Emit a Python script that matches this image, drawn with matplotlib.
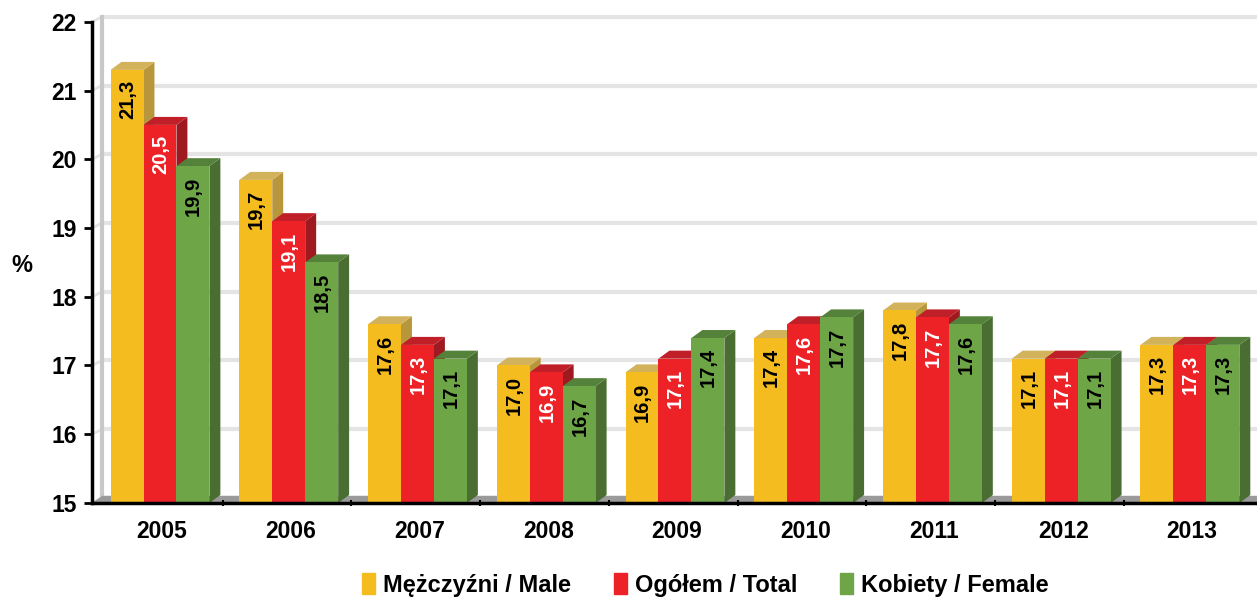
import matplotlib.pyplot as plt
import numpy as np
from matplotlib.patches import Polygon, Patch

plt.rcParams['font.family'] = ['Liberation Sans', 'DejaVu Sans']
plt.rcParams['font.weight'] = 'bold'

years = ['2005', '2006', '2007', '2008', '2009', '2010', '2011', '2012', '2013']
male = [21.3, 19.7, 17.6, 17.0, 16.9, 17.4, 17.8, 17.1, 17.3]
total = [20.5, 19.1, 17.3, 16.9, 17.1, 17.6, 17.7, 17.1, 17.3]
female = [19.9, 18.5, 17.1, 16.7, 17.4, 17.7, 17.6, 17.1, 17.3]
series_names = ['Mężczyźni / Male', 'Ogółem / Total', 'Kobiety / Female']

# front, top, side shades for each series
palette = [
    ('#F5BC1F', '#D2B25A', '#B8973C'),
    ('#EC2227', '#C01F28', '#9E1A20'),
    ('#6EA547', '#55823A', '#4A6D32'),
]
label_colors = ['black', 'white', 'black']

y_min, y_max = 15, 22
x_lo, x_hi = -0.544, 8.505
bar_w = 0.256
group_off = -0.40
# 3D offsets in data units
dx, dy = 0.085, 0.116
wdx, wdy = 0.078, 0.073

fig = plt.figure(figsize=(12.57, 5.97), dpi=100)
ax = fig.add_axes([0.0732, 0.1575, 0.9268, 0.806])
ax.set_xlim(x_lo, x_hi)
ax.set_ylim(y_min, y_max)

# back wall gridlines and little slanted connectors
for v in range(y_min, y_max + 1):
    ax.plot([x_lo + wdx, x_hi], [v + wdy, v + wdy], color='#E4E4E4', lw=3,
            zorder=1, clip_on=False, solid_capstyle='butt')
    ax.plot([x_lo, x_lo + wdx], [v, v + wdy], color='#E4E4E4', lw=2,
            zorder=1, clip_on=False)
# left edge of the back wall
ax.plot([x_lo + wdx, x_lo + wdx], [y_min + wdy, y_max + wdy], color='#C8C8C8',
        lw=3, zorder=1, clip_on=False)
# floor
ax.add_patch(Polygon([(x_lo, y_min), (x_hi, y_min), (x_hi, y_min + 0.1),
                      (x_lo + wdx, y_min + 0.1)],
                     closed=True, color='#9A9A9A', zorder=1.5, clip_on=False))

x = np.arange(len(years))
for k, vals in enumerate([male, total, female]):
    front, top, side = palette[k]
    for i, v in enumerate(vals):
        x0 = x[i] + group_off + k * bar_w
        x1 = x0 + bar_w
        z = 2 + i * 0.01 + k * 0.001
        ax.add_patch(Polygon([(x1, y_min), (x1 + dx, y_min + dy),
                              (x1 + dx, v + dy), (x1, v)],
                             closed=True, color=side, zorder=z, lw=0))
        ax.add_patch(Polygon([(x0, v), (x1, v), (x1 + dx, v + dy), (x0 + dx, v + dy)],
                             closed=True, color=top, zorder=z, lw=0))
        ax.add_patch(Polygon([(x0, y_min), (x1, y_min), (x1, v), (x0, v)],
                             closed=True, color=front, zorder=z, lw=0))
        ax.text((x0 + x1) / 2 + 0.005, v - 0.15, f'{v:.1f}'.replace('.', ','),
                rotation=90, ha='center', va='top', fontsize=14.5,
                fontweight='bold', color=label_colors[k], zorder=z + 0.0005)

for side_name in ['top', 'right']:
    ax.spines[side_name].set_visible(False)
ax.spines['left'].set_linewidth(2.5)
ax.spines['bottom'].set_linewidth(2.5)
ax.spines['left'].set_zorder(5)
ax.spines['bottom'].set_zorder(5)

ax.set_yticks(range(y_min, y_max + 1))
ax.tick_params(axis='y', length=6, width=2, labelsize=16.5, pad=5)
ax.set_xticks(x)
ax.set_xticklabels(years)
ax.tick_params(axis='x', which='major', length=0, labelsize=16.5, pad=12)
ax.set_xticks(x[:-1] + 0.47, minor=True)
ax.tick_params(axis='x', which='minor', length=5, width=1.5, direction='inout')
for lab in ax.get_xticklabels() + ax.get_yticklabels():
    lab.set_fontweight('bold')

fig.text(0.009, 0.555, '%', fontsize=17, fontweight='bold', ha='left', va='center')

handles = [Patch(color=palette[k][0]) for k in range(3)]
fig.legend(handles, series_names, loc='center', bbox_to_anchor=(0.561, 0.02),
           ncol=3, frameon=False, handlelength=0.55, handleheight=1.0,
           handletextpad=0.35, columnspacing=1.8,
           prop={'size': 17, 'weight': 'bold'})

fig.savefig('out.png', dpi=100)
